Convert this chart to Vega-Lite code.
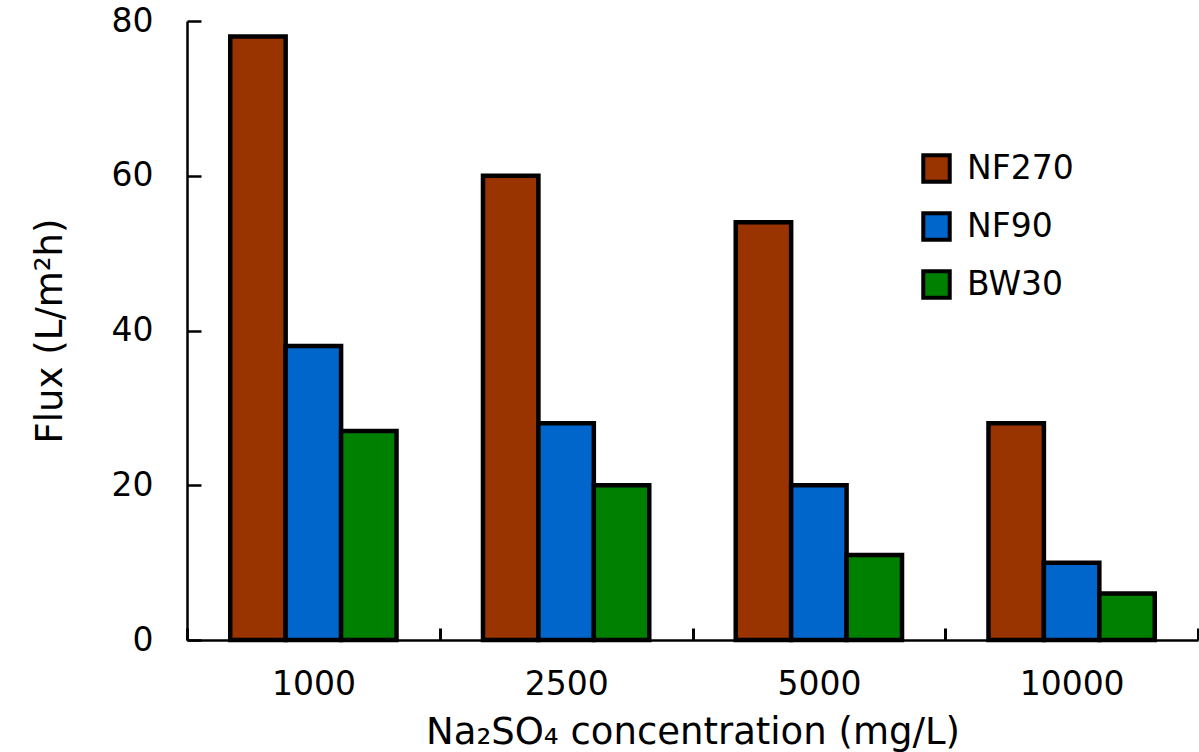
{
  "$schema": "https://vega.github.io/schema/vega-lite/v6.json",
  "width": 1011,
  "height": 619,
  "autosize": "none",
  "padding": {"left": 187, "top": 21, "right": 1, "bottom": 112},
  "background": "white",
  "config": {
    "view": {"stroke": null},
    "font": "DejaVu Sans"
  },
  "data": {
    "values": [
      {"conc": "1000", "membrane": "NF270", "flux": 78},
      {"conc": "1000", "membrane": "NF90", "flux": 38},
      {"conc": "1000", "membrane": "BW30", "flux": 27},
      {"conc": "2500", "membrane": "NF270", "flux": 60},
      {"conc": "2500", "membrane": "NF90", "flux": 28},
      {"conc": "2500", "membrane": "BW30", "flux": 20},
      {"conc": "5000", "membrane": "NF270", "flux": 54},
      {"conc": "5000", "membrane": "NF90", "flux": 20},
      {"conc": "5000", "membrane": "BW30", "flux": 11},
      {"conc": "10000", "membrane": "NF270", "flux": 28},
      {"conc": "10000", "membrane": "NF90", "flux": 10},
      {"conc": "10000", "membrane": "BW30", "flux": 6}
    ]
  },
  "mark": {"type": "bar", "stroke": "black", "strokeWidth": 4.5},
  "encoding": {
    "x": {
      "field": "conc",
      "type": "nominal",
      "sort": ["1000", "2500", "5000", "10000"],
      "scale": {"paddingInner": 0, "paddingOuter": 0},
      "axis": {
        "title": "Na₂SO₄ concentration (mg/L)",
        "titleFontSize": 37,
        "titleFontWeight": "normal",
        "titleColor": "black",
        "titlePadding": 13,
        "labelAngle": 0,
        "labelFontSize": 33,
        "labelColor": "black",
        "labelPadding": 40,
        "tickBand": "extent",
        "tickSize": -12,
        "tickWidth": 3,
        "tickColor": "black",
        "domainColor": "black",
        "domainWidth": 2.5
      }
    },
    "xOffset": {
      "field": "membrane",
      "type": "nominal",
      "sort": ["NF270", "NF90", "BW30"],
      "scale": {"paddingInner": 0, "paddingOuter": 0.78}
    },
    "y": {
      "field": "flux",
      "type": "quantitative",
      "scale": {"domain": [0, 80]},
      "axis": {
        "title": "Flux (L/m²h)",
        "titleFontSize": 37,
        "titleFontWeight": "normal",
        "titleColor": "black",
        "titlePadding": 42,
        "values": [0, 20, 40, 60, 80],
        "labelFontSize": 33,
        "labelColor": "black",
        "labelPadding": 48,
        "tickSize": -14,
        "tickWidth": 2.5,
        "tickColor": "black",
        "domainColor": "black",
        "domainWidth": 2.5,
        "grid": false
      }
    },
    "color": {
      "field": "membrane",
      "type": "nominal",
      "sort": ["NF270", "NF90", "BW30"],
      "scale": {"domain": ["NF270", "NF90", "BW30"], "range": ["#993300", "#0066CC", "#008000"]},
      "legend": {
        "title": null,
        "orient": "none",
        "legendX": 733,
        "legendY": 131,
        "symbolType": "square",
        "symbolSize": 700,
        "symbolStrokeColor": "black",
        "symbolStrokeWidth": 4,
        "symbolOpacity": 1,
        "labelFontSize": 33,
        "labelColor": "black",
        "labelOffset": 14,
        "rowPadding": 15
      }
    }
  }
}
